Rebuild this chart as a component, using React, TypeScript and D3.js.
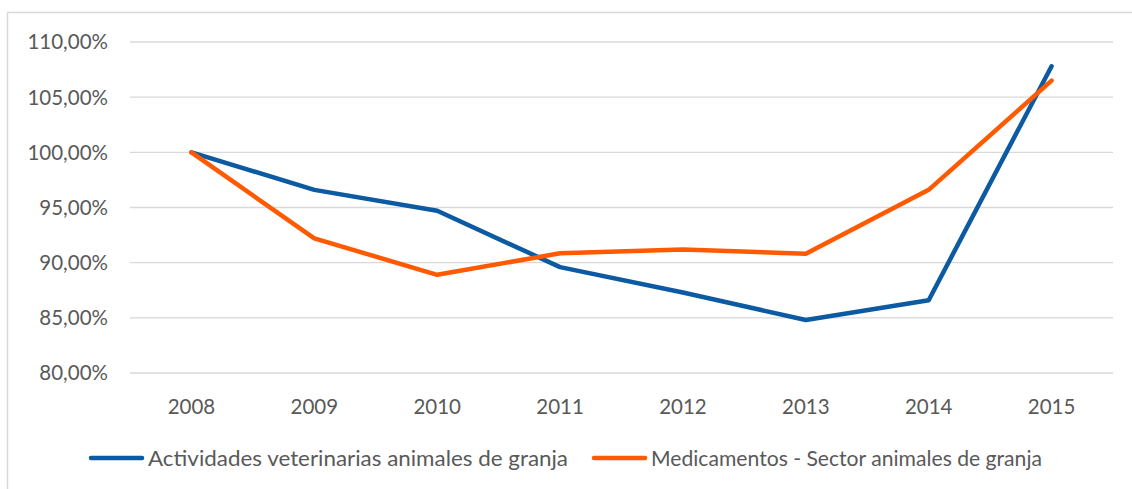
import { useEffect, useRef } from 'react'
import * as d3 from 'd3'

const YEARS = ['2008', '2009', '2010', '2011', '2012', '2013', '2014', '2015']
const VETERINARIAS = [100, 96.6, 94.7, 89.6, 87.3, 84.8, 86.6, 107.8]
const MEDICAMENTOS = [100, 92.2, 88.9, 90.85, 91.2, 90.8, 96.6, 106.5]
const Y_TICKS = [80, 85, 90, 95, 100, 105, 110]
const SERIES_NAMES = [
  'Actividades veterinarias animales de granja',
  'Medicamentos - Sector animales de granja',
]
const COLORS = ['#0B5AA2', '#FF5A00']

export default function App() {
  const svgRef = useRef<SVGSVGElement>(null)

  useEffect(() => {
    if (!svgRef.current) return
    const svg = d3.select(svgRef.current)
    svg.selectAll('*').remove()

    const font = 'Lato, "Open Sans", sans-serif'
    const textColor = '#595959'

    // outer chart frame
    svg.append('rect')
      .attr('x', 7.5).attr('y', 12.5)
      .attr('width', 1140).attr('height', 500)
      .attr('fill', '#fff').attr('stroke', '#d9d9d9').attr('stroke-width', 1.5)

    const left = 130, right = 1113, top = 42, bottom = 373

    const x = d3.scaleBand().domain(YEARS).range([left, right])
    const y = d3.scaleLinear().domain([80, 110]).range([bottom, top])

    // gridlines
    svg.append('g')
      .selectAll('line')
      .data(Y_TICKS)
      .join('line')
      .attr('x1', left).attr('x2', right)
      .attr('y1', (d) => y(d)).attr('y2', (d) => y(d))
      .attr('stroke', '#d9d9d9').attr('stroke-width', 1.3)

    // y labels
    svg.append('g')
      .selectAll('text')
      .data(Y_TICKS)
      .join('text')
      .attr('x', 108).attr('y', (d) => y(d))
      .attr('dy', '0.36em')
      .attr('text-anchor', 'end')
      .attr('font-family', font).attr('font-size', 20.5).attr('fill', textColor)
      .text((d) => d3.format('.2f')(d).replace('.', ',') + '%')

    // x labels
    svg.append('g')
      .selectAll('text')
      .data(YEARS)
      .join('text')
      .attr('x', (d) => (x(d) ?? 0) + x.bandwidth() / 2)
      .attr('y', 414)
      .attr('text-anchor', 'middle')
      .attr('font-family', font).attr('font-size', 20.5).attr('fill', textColor)
      .text((d) => d)

    const line = d3.line<number>()
      .x((_, i) => (x(YEARS[i]) ?? 0) + x.bandwidth() / 2)
      .y((d) => y(d))

    ;[VETERINARIAS, MEDICAMENTOS].forEach((vals, i) => {
      svg.append('path')
        .datum(vals)
        .attr('d', line)
        .attr('fill', 'none')
        .attr('stroke', COLORS[i])
        .attr('stroke-width', 4.5)
        .attr('stroke-linejoin', 'round')
        .attr('stroke-linecap', 'round')
    })

    // legend
    const legendX = [89, 592]
    const legendW = [420, 391]
    SERIES_NAMES.forEach((name, i) => {
      const g = svg.append('g')
      g.append('line')
        .attr('x1', legendX[i] + 2).attr('x2', legendX[i] + 53)
        .attr('y1', 458).attr('y2', 458)
        .attr('stroke', COLORS[i]).attr('stroke-width', 4.5)
        .attr('stroke-linecap', 'round')
      g.append('text')
        .attr('x', legendX[i] + 59).attr('y', 458)
        .attr('dy', '0.36em')
        .attr('font-family', font).attr('font-size', 21.5).attr('fill', textColor)
        .attr('textLength', legendW[i]).attr('lengthAdjust', 'spacingAndGlyphs')
        .text(name)
    })
  }, [])

  return (
    <svg
      ref={svgRef}
      width={1132}
      height={489}
      style={{ position: 'absolute', left: 0, top: 0, display: 'block' }}
    />
  )
}
